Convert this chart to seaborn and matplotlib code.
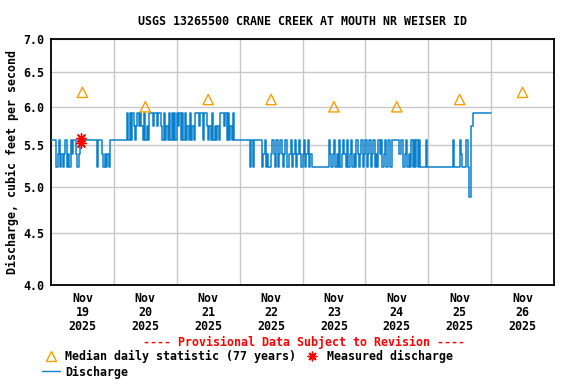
import matplotlib
matplotlib.use("Agg")
import matplotlib.pyplot as plt
import matplotlib.dates as mdates
from matplotlib.lines import Line2D
from matplotlib.ticker import FixedLocator, NullLocator
import seaborn as sns
import numpy as np
import pandas as pd

# discharge levels seen on the chart (cfs), coded by letter
levels = {"a": 5.92, "b": 5.74, "c": 5.56, "d": 5.39, "e": 5.23, "f": 4.89}

# 30-minute readings per day
nov19 = ["cccc", "edcededcedecdccded", "c" * 13, "ecccdededec", "cc"]
nov20 = ["c" * 10, "acaca", "bcbababc", "acbca", "aabaabaab", "cacbcac", "acac"]
nov21 = ["abaca", "cacbcacbca", "aabaacaa", "bcbcacbcbc", "aaaba", "cacbcac", "ccc"]
nov22 = ["c" * 8, "ece", "c" * 6, "edcedeedcdecedcdedceedcedcedcde"]
nov23 = ["dcedcede", "e" * 12, "cdedcedecedcdecedcedecdedced"]
nov24 = ["cedcedcedecdcedce", "ccecc", "ccccdcc", "edcede", "cecece", "c", "eeee", "c", "e"]
nov25 = ["e" * 19, "c", "e", "eee", "cd", "eee", "c", "e", "ff", "b", "a" * 14]

median_dates = ["2025-11-19 12:00", "2025-11-20 12:00", "2025-11-21 12:00", "2025-11-22 12:00",
                "2025-11-23 12:00", "2025-11-24 12:00", "2025-11-25 12:00", "2025-11-26 12:00"]
median_q = [6.2, 6.0, 6.1, 6.1, 6.0, 6.0, 6.1, 6.2]

measured_dates = ["2025-11-19 11:20", "2025-11-19 11:35"]
measured_q = [5.59, 5.52]

day_labels = ["Nov\n19\n2025", "Nov\n20\n2025", "Nov\n21\n2025", "Nov\n22\n2025",
              "Nov\n23\n2025", "Nov\n24\n2025", "Nov\n25\n2025", "Nov\n26\n2025"]
y_ticks = [4.0, 4.5, 5.0, 5.5, 6.0, 6.5, 7.0]

BLUE = "#0a80cc"
ORANGE = "#f5a000"

codes = "".join(["".join(d) for d in [nov19, nov20, nov21, nov22, nov23, nov24, nov25]])
times = pd.date_range("2025-11-19 00:00", periods=len(codes) + 1, freq="30min")
flow = pd.DataFrame({"time": times, "q": [levels[c] for c in codes] + [levels[codes[-1]]]})
med = pd.DataFrame({"time": pd.to_datetime(median_dates), "q": median_q})
meas = pd.DataFrame({"time": pd.to_datetime(measured_dates), "q": measured_q})

sns.set_style("white")
plt.rcParams["font.family"] = ["DejaVu Sans Mono"]
plt.rcParams["font.weight"] = "bold"
plt.rcParams["text.color"] = "black"
plt.rcParams["axes.labelcolor"] = "black"
plt.rcParams["xtick.color"] = "black"
plt.rcParams["ytick.color"] = "black"
FS = 8.4

fig = plt.figure(figsize=(5.76, 3.84), dpi=100)
ax = fig.add_axes([51 / 576, 1 - 285 / 384, 503 / 576, 246 / 384])

sns.lineplot(data=flow, x="time", y="q", ax=ax, color=BLUE, lw=1.1,
             drawstyle="steps-post", estimator=None, zorder=3)
sns.scatterplot(data=med, x="time", y="q", ax=ax, marker="^", s=55,
                facecolor="none", edgecolor=ORANGE, linewidth=1.0, zorder=4)
sns.scatterplot(data=meas, x="time", y="q", ax=ax, marker=(8, 2, 0), s=50,
                color="red", edgecolor="red", linewidth=1.0, zorder=5)

ax.set_yscale("log")
ax.set_ylim(4.0, 7.0)
ax.yaxis.set_major_locator(FixedLocator(y_ticks))
ax.yaxis.set_minor_locator(NullLocator())
ax.set_yticklabels([f"{v:.1f}" for v in y_ticks], fontsize=FS, fontweight="bold")

day0 = pd.Timestamp("2025-11-19")
ax.set_xlim(mdates.date2num(day0), mdates.date2num(day0 + pd.Timedelta(days=8)))
noon = [mdates.date2num(day0 + pd.Timedelta(days=i, hours=12)) for i in range(8)]
midnight = [mdates.date2num(day0 + pd.Timedelta(days=i)) for i in range(1, 8)]
ax.xaxis.set_major_locator(FixedLocator(noon))
ax.xaxis.set_minor_locator(FixedLocator(midnight))
ax.set_xticklabels(day_labels, fontsize=FS, fontweight="bold", linespacing=1.1)

ax.grid(axis="y", which="major", color="#c8c8c8", lw=1.0)
ax.grid(axis="x", which="minor", color="#c8c8c8", lw=1.0)
ax.set_axisbelow(True)
ax.tick_params(which="both", length=0, pad=5, colors="black")
for sp in ax.spines.values():
    sp.set_color("black")
    sp.set_linewidth(1.3)

ax.set_xlabel("")
ax.set_ylabel("Discharge, cubic feet per second", fontsize=FS, fontweight="bold")
ax.yaxis.set_label_coords(-0.064, 0.5)
ax.set_title("USGS 13265500 CRANE CREEK AT MOUTH NR WEISER ID", fontsize=FS,
             fontweight="bold", pad=10)

fig.text(304 / 576, 1 - 342 / 384, "---- Provisional Data Subject to Revision ----",
         color="red", fontsize=FS, fontweight="bold", ha="center", va="center")

handles = [
    Line2D([], [], ls="none", marker="^", markersize=7, markerfacecolor="none",
           markeredgecolor=ORANGE, markeredgewidth=1.0),
    Line2D([], [], color=BLUE, lw=1.0),
    Line2D([], [], ls="none", marker=(8, 2, 0), markersize=7, color="red", markeredgewidth=1.0),
]
names = ["Median daily statistic (77 years)", "Discharge", "Measured discharge"]
fig.legend(handles, names, ncol=2, loc="upper left", bbox_to_anchor=(42 / 576, 1 - 350 / 384),
           frameon=False, fontsize=FS, handlelength=1.5, handletextpad=0.5,
           columnspacing=0.6, borderpad=0, labelspacing=0.2, borderaxespad=0)

fig.savefig("out.png", dpi=100)
